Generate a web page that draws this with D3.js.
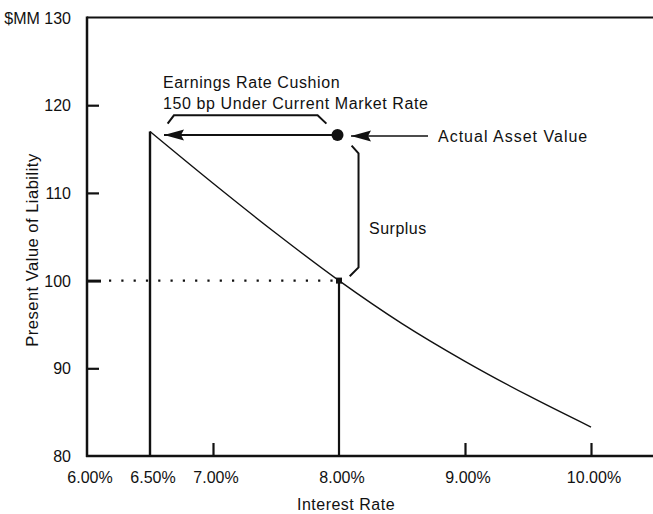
<!DOCTYPE html>
<html>
<head>
<meta charset="utf-8">
<script src="https://cdn.jsdelivr.net/npm/d3@7"></script>
<style>
  html, body { margin: 0; padding: 0; background: #fff; }
  svg { display: block; }
  text { font-family: "Liberation Sans", Arial, Helvetica, sans-serif; fill: #111; }
</style>
</head>
<body>
<svg id="chart" width="653" height="514"></svg>
<script>
// Interest rate (%) and present value of the liability ($MM)
const rates = [6.5, 7.0, 7.5, 8.0, 8.5, 9.0, 9.5, 10.0];
const liabilityPV = [117.0, 111.1, 105.4, 100.0, 95.1, 90.8, 86.9, 83.3];

// Axis ticks
const xTicks = [6.0, 6.5, 7.0, 8.0, 9.0, 10.0];
const xTickLabels = ["6.00%", "6.50%", "7.00%", "8.00%", "9.00%", "10.00%"];
const yTicks = [80, 90, 100, 110, 120, 130];
const yTickLabels = ["80", "90", "100", "110", "120", "$MM 130"];

// Key rates and values
const currentRate = 8.0;          // current market rate
const earningsRate = 6.5;         // 150 bp under market
const liabilityAtCurrent = 100;   // PV of liability at market rate
const assetValue = 116.6;         // actual asset value

const svg = d3.select("#chart");
const W = 653, H = 514;

const x = d3.scaleLinear().domain([6, 10.5]).range([87, 654]);
const y = d3.scaleLinear().domain([80, 130]).range([456, 17.5]);

const ink = "#111";

// Frame: left axis, bottom axis, top rule
svg.append("line").attr("x1", x(6)).attr("x2", W).attr("y1", y(130)).attr("y2", y(130))
  .attr("stroke", ink).attr("stroke-width", 2);
svg.append("line").attr("x1", x(6)).attr("x2", x(6)).attr("y1", y(130) - 1).attr("y2", y(80) + 1)
  .attr("stroke", ink).attr("stroke-width", 2.5);
svg.append("line").attr("x1", x(6) - 1).attr("x2", W).attr("y1", y(80)).attr("y2", y(80))
  .attr("stroke", ink).attr("stroke-width", 2.5);

// Y axis: inward ticks + labels
const yAxis = d3.axisLeft(y).tickValues(yTicks.slice(1, 5))
  .tickSizeInner(-12).tickSizeOuter(0).tickFormat("");
const yg = svg.append("g").attr("transform", `translate(${x(6)},0)`).call(yAxis);
yg.select(".domain").remove();
yg.selectAll(".tick line").attr("stroke", ink)
  .attr("stroke-width", d => d === liabilityAtCurrent ? 3 : 2.2)
  .attr("x2", d => d === liabilityAtCurrent ? 14 : 12);

svg.append("g").selectAll("text").data(yTicks).join("text")
  .attr("x", 71).attr("y", d => y(d) + 6)
  .attr("text-anchor", "end").attr("font-size", 16)
  .text((d, i) => yTickLabels[i]);

// X axis: inward ticks + labels
const xAxis = d3.axisBottom(x).tickValues([7, 9, 10])
  .tickSizeInner(-13).tickSizeOuter(0).tickFormat("");
const xg = svg.append("g").attr("transform", `translate(0,${y(80)})`).call(xAxis);
xg.select(".domain").remove();
xg.selectAll(".tick line").attr("stroke", ink).attr("stroke-width", 2.2);

svg.append("g").selectAll("text").data(xTicks).join("text")
  .attr("x", d => x(d) + 3).attr("y", 483)
  .attr("text-anchor", "middle").attr("font-size", 16)
  .text((d, i) => xTickLabels[i]);

svg.append("text").attr("x", 346).attr("y", 510).attr("text-anchor", "middle")
  .attr("font-size", 16).attr("letter-spacing", 0.5).text("Interest Rate");

svg.append("text").attr("transform", "translate(38,250) rotate(-90)")
  .attr("text-anchor", "middle").attr("font-size", 16.5).attr("letter-spacing", 0.5)
  .text("Present Value of Liability");

// Liability present-value curve
const pts = rates.map((r, i) => [r, liabilityPV[i]]);
svg.append("path").datum(pts)
  .attr("d", d3.line().x(d => x(d[0])).y(d => y(d[1])).curve(d3.curveMonotoneX))
  .attr("fill", "none").attr("stroke", ink).attr("stroke-width", 1.4);

// Vertical drops at earnings rate and current rate
svg.append("line").attr("x1", x(earningsRate)).attr("x2", x(earningsRate))
  .attr("y1", y(liabilityPV[rates.indexOf(earningsRate)])).attr("y2", y(80))
  .attr("stroke", ink).attr("stroke-width", 2.4);
svg.append("line").attr("x1", x(currentRate)).attr("x2", x(currentRate))
  .attr("y1", y(liabilityAtCurrent)).attr("y2", y(80))
  .attr("stroke", ink).attr("stroke-width", 2.2);

// Dotted guide at PV = 100
svg.append("line").attr("x1", x(6) + 22).attr("x2", x(currentRate) - 6)
  .attr("y1", y(liabilityAtCurrent)).attr("y2", y(liabilityAtCurrent))
  .attr("stroke", ink).attr("stroke-width", 2.2).attr("stroke-dasharray", "2.2,10.1");

// Point on curve at current rate
svg.append("rect").attr("x", x(currentRate) - 3).attr("y", y(liabilityAtCurrent) - 3)
  .attr("width", 6).attr("height", 6).attr("fill", ink);

// Arrowhead marker (tip at the line end)
const defs = svg.append("defs");
defs.append("marker").attr("id", "head").attr("viewBox", "0 0 20 12")
  .attr("refX", 20).attr("refY", 6).attr("markerWidth", 20).attr("markerHeight", 12)
  .attr("markerUnits", "userSpaceOnUse").attr("orient", "auto")
  .append("path").attr("d", "M20,6 L0,0.5 L3,6 L0,11.5 Z").attr("fill", ink);

// Asset value shifted to the earnings rate
svg.append("line").attr("x1", x(currentRate) - 4).attr("x2", x(earningsRate) + 14)
  .attr("y1", y(assetValue)).attr("y2", y(assetValue))
  .attr("stroke", ink).attr("stroke-width", 2.2)
  .attr("marker-end", "url(#head)");
svg.append("circle").attr("cx", x(currentRate) - 1.5).attr("cy", y(assetValue))
  .attr("r", 6).attr("fill", ink);

// Label arrow for the asset
svg.append("line").attr("x1", 428).attr("x2", x(currentRate) + 12)
  .attr("y1", y(assetValue) + 1).attr("y2", y(assetValue) + 1)
  .attr("stroke", ink).attr("stroke-width", 1.6)
  .attr("marker-end", "url(#head)");
svg.append("text").attr("x", 438).attr("y", y(assetValue) + 7)
  .attr("font-size", 16).attr("letter-spacing", 1).text("Actual Asset Value");

// Earnings cushion bracket
const cushion = [[6.64, 117.9], [6.69, 118.85], [7.83, 118.85], [7.9, 117.9]];
svg.append("path").datum(cushion)
  .attr("d", d3.line().x(d => x(d[0])).y(d => y(d[1])))
  .attr("fill", "none").attr("stroke", ink).attr("stroke-width", 2);
svg.append("text").attr("x", 163).attr("y", 88)
  .attr("font-size", 16).attr("letter-spacing", 0.6).text("Earnings Rate Cushion");
svg.append("text").attr("x", 163).attr("y", 109)
  .attr("font-size", 16).attr("letter-spacing", 0.6).text("150 bp Under Current Market Rate");

// Surplus bracket
const surplus = [[8.1, 115.4], [8.155, 114.5], [8.155, 101.5], [8.085, 100.5]];
svg.append("path").datum(surplus)
  .attr("d", d3.line().x(d => x(d[0])).y(d => y(d[1])))
  .attr("fill", "none").attr("stroke", ink).attr("stroke-width", 2);
svg.append("text").attr("x", 369).attr("y", 234)
  .attr("font-size", 16).attr("letter-spacing", 0.5).text("Surplus");
</script>
</body>
</html>
